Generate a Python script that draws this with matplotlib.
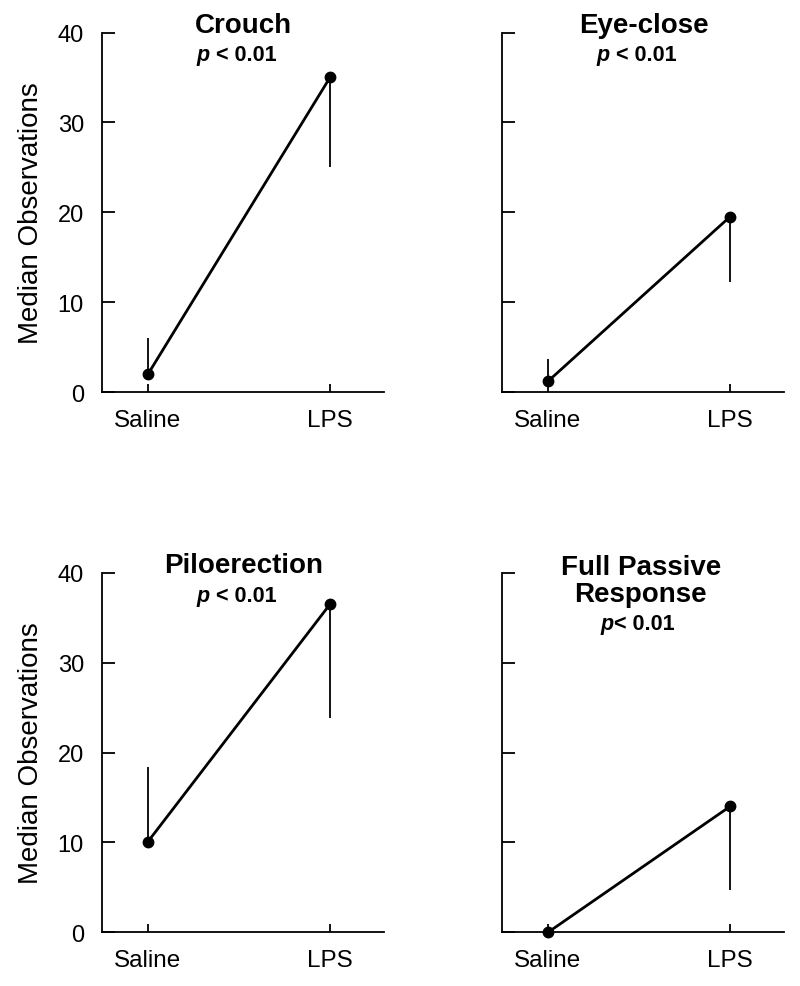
import matplotlib
matplotlib.use('Agg')
import matplotlib.pyplot as plt

plt.rcParams['font.family'] = ['Liberation Sans', 'DejaVu Sans']

groups = ['Saline', 'LPS']
titles = ['Crouch', 'Eye-close', 'Piloerection', 'Full Passive\nResponse']
p_rest = [' < 0.01', ' < 0.01', ' < 0.01', '< 0.01']

# medians for Saline, LPS
medians = [[2.0, 35.0], [1.2, 19.5], [10.1, 36.5], [0.0, 14.0]]
# one-sided bars: saline goes up, LPS goes down
saline_upper = [6.0, 3.7, 18.4, 0.0]
lps_lower = [25.0, 12.2, 23.8, 4.7]

fig = plt.figure(figsize=(8, 9.87), dpi=100)
positions = [
    [0.1275, 0.6018, 0.3525, 0.3642],
    [0.6275, 0.6018, 0.3525, 0.3642],
    [0.1275, 0.0544, 0.3525, 0.3642],
    [0.6275, 0.0544, 0.3525, 0.3642],
]

for i in range(4):
    ax = fig.add_axes(positions[i])
    x = [0, 1]
    y = medians[i]
    ax.vlines(0, y[0], saline_upper[i], color='black', lw=1.3)
    ax.vlines(1, lps_lower[i], y[1], color='black', lw=1.3)
    ax.plot(x, y, color='black', lw=2.0, marker='o', markersize=7.5, clip_on=False, zorder=3)

    ax.set_xlim(-0.253, 1.297)
    ax.set_ylim(0, 40)
    ax.set_xticks(x)
    ax.set_xticklabels(groups)
    ax.set_yticks([0, 10, 20, 30, 40])
    ax.spines['top'].set_visible(False)
    ax.spines['right'].set_visible(False)
    for s in ['left', 'bottom']:
        ax.spines[s].set_linewidth(1.3)
    ax.tick_params(axis='y', direction='in', length=9.5, width=1.3, pad=13, labelsize=17)
    ax.tick_params(axis='x', direction='in', length=6, width=1.3, pad=12, labelsize=17.5)

    if i % 2 == 0:
        ax.set_ylabel('Median Observations', fontsize=20, labelpad=10)
    else:
        ax.set_yticklabels([])

    if i == 3:
        ax.text(0.51, 36.9, titles[i], ha='center', va='baseline', fontsize=20,
                fontweight='bold', linespacing=1.05)
        py = 33.8
    else:
        ax.text(0.525, 40.1, titles[i], ha='center', va='baseline', fontsize=20, fontweight='bold')
        py = 36.9
    # italic bold p followed by the rest
    xc = 0.5 - 0.16 if i < 3 else 0.5 - 0.14
    ax.text(xc, py, 'p', ha='right', va='baseline', fontsize=15.5, fontweight='bold', fontstyle='italic')
    ax.text(xc, py, p_rest[i], ha='left', va='baseline', fontsize=15.5, fontweight='bold')

fig.savefig('out.png', dpi=100)
